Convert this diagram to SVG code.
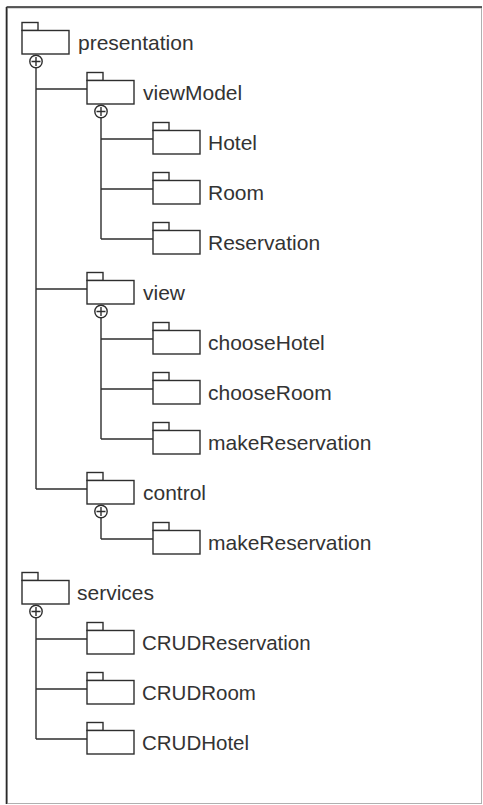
<svg xmlns="http://www.w3.org/2000/svg" xmlns:xlink="http://www.w3.org/1999/xlink" width="483" height="805" viewBox="0 0 483 805">
<style>
.ln{stroke:#2e2e2e;stroke-width:1.4;fill:none}
.pk{stroke:#2e2e2e;stroke-width:1.4;fill:#fff}
.lbl{font-family:"Liberation Sans",Arial,sans-serif;font-size:21px;fill:#333}
.cr{font-size:20.5px}
</style>
<defs>
<g id="folder">
<rect class="pk" x="0" y="-8" width="16" height="8"/>
<rect class="pk" x="0" y="0" width="47" height="23.5"/>
</g>
<g id="plus">
<circle class="pk" cx="0" cy="0" r="6.2"/>
<path class="ln" d="M-4.5,0H4.5M0,-4.5V4.5"/>
</g>
</defs>
<rect x="0" y="0" width="483" height="805" fill="#fff"/>
<rect x="7.5" y="8" width="474" height="795.5" fill="none" stroke="#b0b0b0" stroke-width="1"/>
<path d="M6.5,7H482M6.5,7V804" stroke="#2a2a2a" stroke-width="1.6" fill="none"/>

<g id="connectors">
<path class="ln" d="M36,67.7V489M36,89H87M36,289H87M36,489H87"/>
<path class="ln" d="M101,117.7V239M101,139H153M101,189H153M101,239H153"/>
<path class="ln" d="M101,317.7V439M101,339H153M101,389H153M101,439H153"/>
<path class="ln" d="M101,517.7V539M101,539H153"/>
<path class="ln" d="M36,617.7V739M36,639H87M36,689H87M36,739H87"/>
<use xlink:href="#plus" x="36" y="61.5"/>
<use xlink:href="#plus" x="101" y="111.5"/>
<use xlink:href="#plus" x="101" y="311.5"/>
<use xlink:href="#plus" x="101" y="511.5"/>
<use xlink:href="#plus" x="36" y="611.5"/>
</g>

<g id="presentation"><use xlink:href="#folder" x="22" y="30.5"/><text class="lbl" x="78" y="50">presentation</text></g>
<g id="viewModel"><use xlink:href="#folder" x="87" y="80.5"/><text class="lbl" x="143" y="100">viewModel</text></g>
<g id="Hotel"><use xlink:href="#folder" x="153" y="130.5"/><text class="lbl" x="208" y="150">Hotel</text></g>
<g id="Room"><use xlink:href="#folder" x="153" y="180.5"/><text class="lbl" x="208" y="200">Room</text></g>
<g id="Reservation"><use xlink:href="#folder" x="153" y="230.5"/><text class="lbl" x="208" y="250">Reservation</text></g>
<g id="view"><use xlink:href="#folder" x="87" y="280.5"/><text class="lbl" x="143" y="300">view</text></g>
<g id="chooseHotel"><use xlink:href="#folder" x="153" y="330.5"/><text class="lbl" x="208" y="350">chooseHotel</text></g>
<g id="chooseRoom"><use xlink:href="#folder" x="153" y="380.5"/><text class="lbl" x="208" y="400">chooseRoom</text></g>
<g id="makeReservation"><use xlink:href="#folder" x="153" y="430.5"/><text class="lbl" x="208" y="450">makeReservation</text></g>
<g id="control"><use xlink:href="#folder" x="87" y="480.5"/><text class="lbl" x="143" y="500">control</text></g>
<g id="control_makeReservation"><use xlink:href="#folder" x="153" y="530.5"/><text class="lbl" x="208" y="550">makeReservation</text></g>
<g id="services"><use xlink:href="#folder" x="22" y="580.5"/><text class="lbl" x="77" y="600">services</text></g>
<g id="CRUDReservation"><use xlink:href="#folder" x="87" y="630.5"/><text class="lbl cr" x="142" y="650">CRUDReservation</text></g>
<g id="CRUDRoom"><use xlink:href="#folder" x="87" y="680.5"/><text class="lbl cr" x="142" y="700">CRUDRoom</text></g>
<g id="CRUDHotel"><use xlink:href="#folder" x="87" y="730.5"/><text class="lbl cr" x="142" y="750">CRUDHotel</text></g>
</svg>
